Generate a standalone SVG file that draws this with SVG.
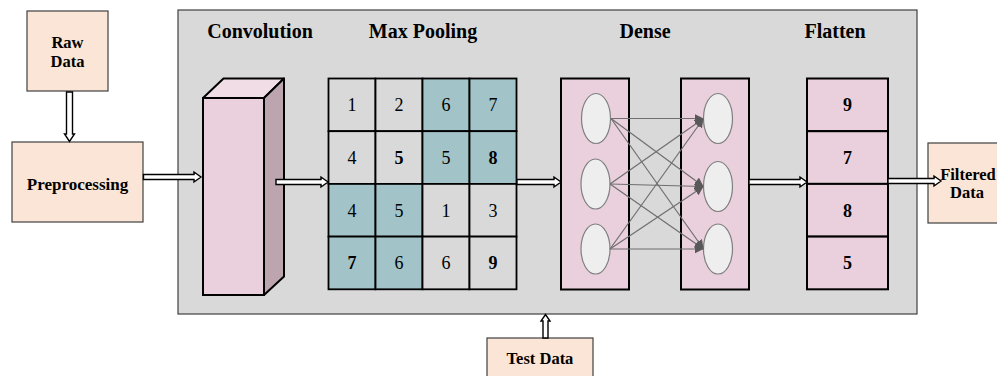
<svg xmlns="http://www.w3.org/2000/svg" width="997" height="376" viewBox="0 0 997 376">
<style>
.lbl{font-family:"Liberation Serif","Times New Roman",serif;font-weight:bold;fill:#000;text-anchor:middle}
.ttl{font-size:20px}
.box{font-size:16.5px}
.num{font-family:"Liberation Serif","Times New Roman",serif;font-size:18px;fill:#000;text-anchor:middle}
.b{font-weight:bold}
.peach{fill:#fbe5d6;stroke:#404040;stroke-width:1.2}
.pink{fill:#e9d0dc;stroke:#000;stroke-width:2}
.cell{fill:#d9d9d9;stroke:#000;stroke-width:1.8}
.teal{fill:#a2c4c9;stroke:#000;stroke-width:1.8}
.neuron{fill:#eeeeee;stroke:#7f7f7f;stroke-width:1.2}
.harrow{fill:#fff;stroke:#000;stroke-width:1.4;stroke-linejoin:miter}
.edge{stroke:#6f6f6f;stroke-width:1.2;fill:none;marker-end:url(#ah)}
</style>
<defs>
<marker id="ah" viewBox="0 0 10 10" refX="10" refY="5" markerWidth="9" markerHeight="9" markerUnits="userSpaceOnUse" orient="auto">
<path d="M0,0 L10,5 L0,10 Z" fill="#595959"/>
</marker>
</defs>
<rect width="997" height="376" fill="#fff"/>

<g id="cnn-container">
<rect x="178" y="10" width="739" height="304" fill="#d9d9d9" stroke="#404040" stroke-width="1.2"/>
<text class="lbl ttl" x="260" y="38">Convolution</text>
<text class="lbl ttl" x="423" y="38">Max Pooling</text>
<text class="lbl ttl" x="645" y="38">Dense</text>
<text class="lbl ttl" x="835" y="38">Flatten</text>
</g>

<g id="raw-data">
<rect class="peach" x="27" y="11" width="81" height="80"/>
<text class="lbl box" x="67.5" y="48">Raw</text>
<text class="lbl box" x="67.5" y="67">Data</text>
</g>

<g id="preprocessing">
<rect class="peach" x="12" y="142" width="131" height="80"/>
<text class="lbl" style="font-size:17px" x="77.5" y="190">Preprocessing</text>
</g>

<g id="test-data">
<rect class="peach" x="487" y="338" width="106" height="44"/>
<text class="lbl box" x="540" y="364">Test Data</text>
</g>

<g id="filtered-data">
<rect class="peach" x="928" y="143" width="80" height="80"/>
<text class="lbl box" x="968" y="180">Filtered</text>
<text class="lbl box" x="967" y="198">Data</text>
</g>

<g id="convolution">
<polygon points="203,98 223.5,78.5 284,78.5 264,98" fill="#f0dde6" stroke="#000" stroke-width="2" stroke-linejoin="round"/>
<polygon points="264,98 284,78.5 284,276.5 264,295" fill="#bca5af" stroke="#000" stroke-width="2" stroke-linejoin="round"/>
<rect x="203" y="98" width="61" height="197" fill="#e9d0dc" stroke="#000" stroke-width="2"/>
</g>

<g id="max-pooling">
<rect class="cell" x="328.5" y="78.5" width="47" height="52.7"/>
<rect class="cell" x="375.5" y="78.5" width="47" height="52.7"/>
<rect class="teal" x="422.5" y="78.5" width="47" height="52.7"/>
<rect class="teal" x="469.5" y="78.5" width="47" height="52.7"/>
<rect class="cell" x="328.5" y="131.2" width="47" height="52.7"/>
<rect class="cell" x="375.5" y="131.2" width="47" height="52.7"/>
<rect class="teal" x="422.5" y="131.2" width="47" height="52.7"/>
<rect class="teal" x="469.5" y="131.2" width="47" height="52.7"/>
<rect class="teal" x="328.5" y="183.9" width="47" height="52.7"/>
<rect class="teal" x="375.5" y="183.9" width="47" height="52.7"/>
<rect class="cell" x="422.5" y="183.9" width="47" height="52.7"/>
<rect class="cell" x="469.5" y="183.9" width="47" height="52.7"/>
<rect class="teal" x="328.5" y="236.6" width="47" height="52.7"/>
<rect class="teal" x="375.5" y="236.6" width="47" height="52.7"/>
<rect class="cell" x="422.5" y="236.6" width="47" height="52.7"/>
<rect class="cell" x="469.5" y="236.6" width="47" height="52.7"/>
<text class="num" x="352" y="111">1</text>
<text class="num" x="399" y="111">2</text>
<text class="num" x="446" y="111">6</text>
<text class="num" x="493" y="111">7</text>
<text class="num" x="352" y="164">4</text>
<text class="num b" x="399" y="164">5</text>
<text class="num" x="446" y="164">5</text>
<text class="num b" x="493" y="164">8</text>
<text class="num" x="352" y="217">4</text>
<text class="num" x="399" y="217">5</text>
<text class="num" x="446" y="217">1</text>
<text class="num" x="493" y="217">3</text>
<text class="num b" x="352" y="269">7</text>
<text class="num" x="399" y="269">6</text>
<text class="num" x="446" y="269">6</text>
<text class="num b" x="493" y="269">9</text>
</g>

<g id="dense-input">
<rect class="pink" x="561" y="78.5" width="68" height="211"/>
<ellipse class="neuron" cx="596" cy="118.5" rx="14.5" ry="25"/>
<ellipse class="neuron" cx="595.5" cy="184" rx="14.5" ry="25"/>
<ellipse class="neuron" cx="595.5" cy="249" rx="14.5" ry="25"/>
</g>

<g id="dense-output">
<rect class="pink" x="681" y="78.5" width="68" height="211"/>
<ellipse class="neuron" cx="718" cy="118.5" rx="14.5" ry="25"/>
<ellipse class="neuron" cx="718" cy="186.5" rx="14.5" ry="25"/>
<ellipse class="neuron" cx="718" cy="249" rx="14.5" ry="25"/>
</g>

<g id="flatten">
<rect class="pink" x="807" y="78.5" width="81" height="52.7"/>
<rect class="pink" x="807" y="131.2" width="81" height="52.7"/>
<rect class="pink" x="807" y="183.9" width="81" height="52.7"/>
<rect class="pink" x="807" y="236.6" width="81" height="52.7"/>
<text class="num b" x="847.5" y="111">9</text>
<text class="num b" x="847.5" y="164">7</text>
<text class="num b" x="847.5" y="217">8</text>
<text class="num b" x="847.5" y="269">5</text>
</g>

<g id="connectors">
<path class="harrow" d="M66.5,92 L66.5,134 L64.5,134 L69.5,141.5 L74.5,134 L72.5,134 L72.5,92 Z"/>
<path class="harrow" d="M143.5,174.5 L194,174.5 L194,172 L201,177 L194,182 L194,179.5 L143.5,179.5 Z"/>
<path class="harrow" d="M276,179.5 L321,179.5 L321,177 L328,182 L321,187 L321,184.5 L276,184.5 Z"/>
<path class="harrow" d="M517,179.5 L554,179.5 L554,177 L561,182 L554,187 L554,184.5 L517,184.5 Z"/>
<path class="harrow" d="M749,179.5 L800,179.5 L800,177 L807,182 L800,187 L800,184.5 L749,184.5 Z"/>
<path class="harrow" d="M888,178.5 L934,178.5 L934,176 L941,181 L934,186 L934,183.5 L888,183.5 Z"/>
<path class="harrow" d="M543,338 L543,321 L541,321 L545.5,314.5 L550,321 L548,321 L548,338 Z"/>
<line class="edge" x1="611" y1="118.5" x2="703.5" y2="118.5"/>
<line class="edge" x1="611" y1="118.5" x2="703.5" y2="186.5"/>
<line class="edge" x1="611" y1="118.5" x2="703.5" y2="249"/>
<line class="edge" x1="610" y1="184" x2="703.5" y2="118.5"/>
<line class="edge" x1="610" y1="184" x2="703.5" y2="186.5"/>
<line class="edge" x1="610" y1="184" x2="703.5" y2="249"/>
<line class="edge" x1="610" y1="249" x2="703.5" y2="118.5"/>
<line class="edge" x1="610" y1="249" x2="703.5" y2="186.5"/>
<line class="edge" x1="610" y1="249" x2="703.5" y2="249"/>
</g>
</svg>
